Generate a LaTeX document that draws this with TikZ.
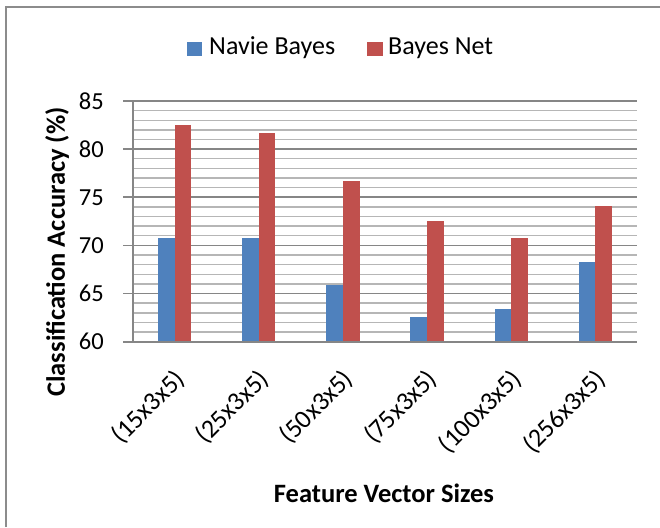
\documentclass[tikz,border=0pt]{standalone}
\usepackage{fontspec}
\setmainfont{Carlito}
\definecolor{majorgray}{RGB}{134,134,134}
\definecolor{minorgray}{RGB}{182,182,182}
\definecolor{framegray}{RGB}{140,140,140}
\definecolor{nbblue}{RGB}{79,129,189}
\definecolor{bnred}{RGB}{192,80,77}
\begin{document}
\begin{tikzpicture}[x=1pt,y=-1pt,
  majorline/.style={draw=majorgray, line width=1.6pt},
  minorline/.style={draw=minorgray, line width=1.4pt},
  ticklab/.style={font=\fontsize{24.5}{28}\selectfont, inner sep=0pt, anchor=east},
  xlab/.style={font=\fontsize{26}{30}\selectfont, inner sep=0pt, anchor=east, rotate=45},
  axtitle/.style={font=\fontsize{26.5}{30}\selectfont\bfseries, inner sep=0pt},
  legtext/.style={font=\fontsize{26}{30}\selectfont, inner sep=0pt, anchor=base west}]
\useasboundingbox (0,0) rectangle (660,527);
\fill[white] (0,0) rectangle (660,527);
% frame
\draw[framegray, line width=2pt] (6,527) -- (6,7.5) -- (660,7.5);
% minor grid
\foreach \v in {61,...,84}{
  \pgfmathtruncatemacro\m{mod(\v,5)}
  \ifnum\m=0\else
    \draw[minorline] (132.7,{341.7-(\v-60)*9.628}) -- (637,{341.7-(\v-60)*9.628});
  \fi
}
% major grid
\foreach \v in {65,70,...,85}{
  \draw[majorline] (123,{341.7-(\v-60)*9.628}) -- (637,{341.7-(\v-60)*9.628});
}
% tick labels
\foreach \v in {60,65,...,85}{
  \node[ticklab] (t\v) at (104,{341.7-(\v-60)*9.628}) {\v};
}
% bars and category labels
\foreach \i/\a/\b/\lab in {1/70.8/82.5/{(15x3x5)},2/70.8/81.7/{(25x3x5)},3/65.9/76.7/{(50x3x5)},4/62.6/72.55/{(75x3x5)},5/63.4/70.8/{(100x3x5)},6/68.3/74.1/{(256x3x5)}}{
  \pgfmathsetmacro\c{132.5+84.17*(\i-0.5)}
  \fill[nbblue] ({\c-16.7},341.7) rectangle (\c,{341.7-(\a-60)*9.628});
  \fill[bnred] (\c,341.7) rectangle ({\c+16.7},{341.7-(\b-60)*9.628});
  \node[xlab] (x\i) at ({\c+6},375) {\lab};
}
% axes
\draw[majorline, line width=2pt] (123,341.7) -- (637,341.7);
\draw[majorline] (132.7,100.5) -- (132.7,341.7);
% axis titles
\node[axtitle, rotate=90] (ytitle) at (57,252) {Classification Accuracy (\%)};
\node[axtitle, anchor=base] (xtitle) at (384,502) {Feature Vector Sizes};
% legend
\fill[nbblue] (187,42) rectangle (202,56);
\node[legtext] (leg1) at (209,55) {Navie Bayes};
\fill[bnred] (367,42) rectangle (383,56);
\node[legtext] (leg2) at (388,55) {Bayes Net};
\end{tikzpicture}
\end{document}
